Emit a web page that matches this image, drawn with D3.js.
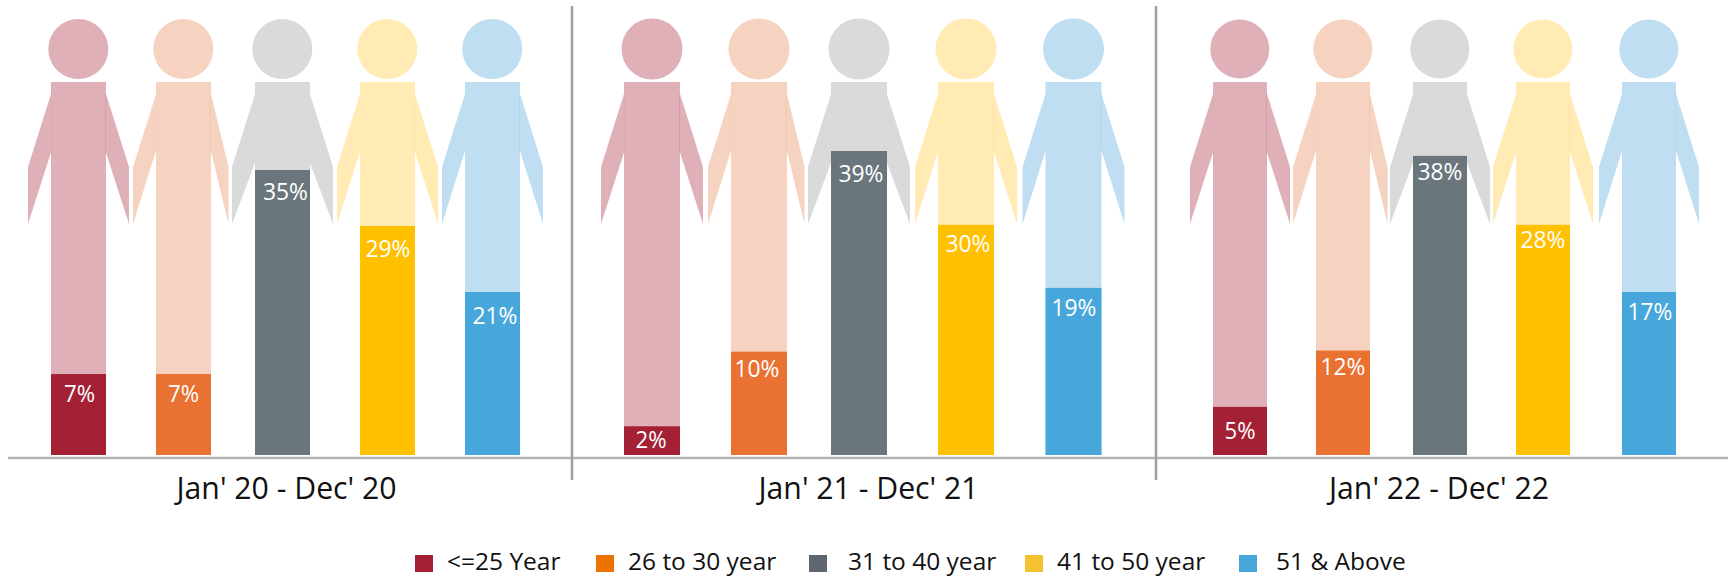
<!DOCTYPE html>
<html><head><meta charset="utf-8">
<script src="https://cdn.jsdelivr.net/npm/d3@7/dist/d3.min.js"></script>
<style>html,body{margin:0;padding:0;background:#fff}svg{display:block}text{font-family:"Open Sans",sans-serif}</style>
</head><body><svg id="c" width="1728" height="578"></svg>
<script>
const periods = ["Jan' 20 - Dec' 20","Jan' 21 - Dec' 21","Jan' 22 - Dec' 22"];
const ageGroups = ["<=25 Year","26 to 30 year","31 to 40 year","41 to 50 year","51 & Above"];
const labels2020 = [7,7,35,29,21];
const labels2021 = [2,10,39,30,19];
const labels2022 = [5,12,38,28,17];
// how far the icon is filled, in percent of icon height
const fill2020 = [21.7,21.7,76.4,61.4,43.7];
const fill2021 = [7.7,27.7,81.5,61.7,44.8];
const fill2022 = [12.9,28,80.2,61.7,43.7];
const darkColors = ["#A32035","#E97132","#6A757C","#FFC000","#47A6DA"];
const lightColors = ["#DFB0B8","#F6D3C1","#DADADA","#FFEBB3","#BFDEF1"];
const legendColors = ["#A32035","#EC7300","#5E6770","#F4C133","#47A6DA"];

const labelRows=[labels2020,labels2021,labels2022], fillRows=[fill2020,fill2021,fill2022];
const svg=d3.select("#c");
const y=d3.scaleLinear().domain([0,100]).range([455,82]);
const colDark=d3.scaleOrdinal(ageGroups,darkColors), colLight=d3.scaleOrdinal(ageGroups,lightColors), colLeg=d3.scaleOrdinal(ageGroups,legendColors);
const xScales=[
 d3.scaleOrdinal(ageGroups,[78.5,183.5,282.5,387.5,492.5]),
 d3.scaleOrdinal(ageGroups,[652,759,859,966,1073.5]),
 d3.scaleOrdinal(ageGroups,[1240,1343,1440,1543,1649])
];
const bw=[55,56,54], headR=[30,30.5,29.5];
// layout of the icon (pixels)
const armR=d3.scaleOrdinal(ageGroups,[23,17.5,23,23,23]);
const innerY=d3.scaleOrdinal(ageGroups,[152.5,151,163,152,151]);
const seam=d3.scaleOrdinal(ageGroups,["#A32035","#E97132","#DADADA","#F5C842","#47A6DA"]);
// label nudges (pixels): dx from icon centre, dy from top of the fill
const nudgeX=[[1,0,3,0.5,2.5],[-1,-2,2,2,0.5],[0,0,0,0,1]];
const nudgeY=[[28,28,30,31,32],[22,25,30.5,27,28],[32,24,24,23,28]];
function person(g,cx,w,r0,a){
  const l=cx-w/2,r=cx+w/2,top=y(100),al=23,ar=armR(a),iy=innerY(a);
  const line=d3.line();
  g.append("path").attr("d",line([[l,top],[r,top],[r,y(0)],[l,y(0)]])+"Z");
  g.append("path").attr("d",line([[l+1,94],[l,94],[l-al,167],[l-al,224],[l,iy],[l+1,iy]])+"Z");
  g.append("path").attr("d",line([[r-1,94],[r,94],[r+ar,167],[r+ar,224],[r,iy],[r-1,iy]])+"Z");
  g.append("circle").attr("cx",cx+(r0>30?0:-0.2)).attr("cy",49).attr("r",r0);
  g.append("line").attr("x1",r-0.5).attr("x2",r-0.5).attr("y1",94).attr("y2",iy).attr("stroke",seam(a)).attr("stroke-opacity",0.12).attr("stroke-width",1);
  g.append("line").attr("x1",l+0.5).attr("x2",l+0.5).attr("y1",94).attr("y2",iy).attr("stroke",seam(a)).attr("stroke-opacity",0.04).attr("stroke-width",1);
}
periods.forEach((p,pi)=>{
  const x=xScales[pi], w=bw[pi];
  ageGroups.forEach((a,i)=>{
    const g=svg.append("g").attr("fill",colLight(a));
    person(g,x(a),w,headR[pi],a);
    const top=y(fillRows[pi][i]);
    svg.append("rect").attr("x",x(a)-w/2).attr("width",w).attr("y",top).attr("height",y(0)-top).attr("fill",colDark(a));
    svg.append("text").attr("x",x(a)+nudgeX[pi][i]).attr("y",top+nudgeY[pi][i]).attr("text-anchor","middle").attr("font-size",24).attr("textLength",String(labelRows[pi][i]).length>1?45:31).attr("lengthAdjust","spacingAndGlyphs").attr("fill","#fff").text(labelRows[pi][i]+"%");
  });
});
const periodX=d3.scaleOrdinal(periods,[286.5,868.5,1439]);
svg.append("line").attr("x1",8).attr("x2",1728).attr("y1",458).attr("y2",458).attr("stroke","#b5b5b5").attr("stroke-width",2.5);
[572,1156].forEach(v=>svg.append("line").attr("x1",v).attr("x2",v).attr("y1",6).attr("y2",480).attr("stroke","#a0a0a0").attr("stroke-width",2.5));
periods.forEach(p=>svg.append("text").attr("x",periodX(p)).attr("y",499).attr("text-anchor","middle").attr("font-size",31).attr("textLength",220).attr("lengthAdjust","spacingAndGlyphs").attr("fill","#111").text(p));
const legX=d3.scaleOrdinal(ageGroups,[415,596,809,1025,1239]);
const legT=d3.scaleOrdinal(ageGroups,[447,628,848,1057,1276]);
ageGroups.forEach(a=>{
  svg.append("rect").attr("x",legX(a)).attr("y",555).attr("width",18).attr("height",17).attr("fill",colLeg(a));
  svg.append("text").attr("x",legT(a)).attr("y",570).attr("font-size",24.5).attr("fill","#111").text(a);
});
</script></body></html>
